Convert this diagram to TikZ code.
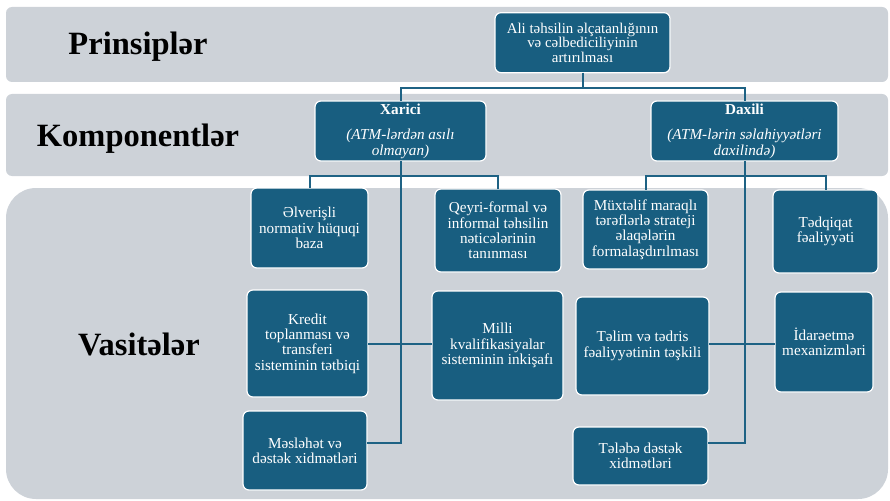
\documentclass[tikz,border=0pt]{standalone}
\usepackage{fontspec}
\setmainfont{LiberationSerif}[Extension=.ttf, UprightFont=*-Regular, BoldFont=*-Bold, ItalicFont=*-Italic, BoldItalicFont=*-BoldItalic]
\definecolor{bandgrey}{RGB}{205,210,216}
\definecolor{boxblue}{RGB}{24,94,128}
\definecolor{lineblue}{RGB}{30,98,132}
\tikzset{
  band/.style={fill=bandgrey, draw=none},
  bandlabel/.style={anchor=base, text=black, font=\fontsize{32.5}{36}\selectfont\bfseries, inner sep=0},
  tbox/.style={fill=boxblue, draw=white, line width=1.2pt, rounded corners=6pt,
    text=white, align=center, inner sep=0pt, outer sep=0pt,
    font=\fontsize{15.2}{15.4}\selectfont},
  conn/.style={draw=lineblue, line width=2pt}
}
\begin{document}
\begin{tikzpicture}[x=1pt,y=-1pt]
\useasboundingbox (0,0) rectangle (890,500);
% bands
\path[band, rounded corners=6pt] (6,7) rectangle (888,82);
\path[band, rounded corners=6pt] (6,94) rectangle (888,176);
\path[band, rounded corners=30pt] (6,188) rectangle (888,499);
% band labels
\node[bandlabel] (lp) at (138,55) {Prinsiplər};
\node[bandlabel] (lk) at (138,146.7) {Komponentlər};
\node[bandlabel] (lv) at (139,355) {Vasitələr};
% boxes
\node[tbox, minimum width=175pt, minimum height=60pt, font=\fontsize{14.9}{14.6}\selectfont] (top) at (582.5,42.7)
  {Ali təhsilin əlçatanlığının\\və cəlbediciliyinin\\artırılması};
\node[tbox, minimum width=171pt, minimum height=60pt] (xarici) at (400.5,131)
  {\textbf{Xarici}\\[10pt]\textit{(ATM-lərdən asılı}\\\textit{olmayan)}};
\node[tbox, minimum width=187pt, minimum height=60pt] (daxili) at (744.5,131)
  {\textbf{Daxili}\\[10pt]\textit{(ATM-lərin səlahiyyətləri}\\\textit{daxilində)}};
\node[tbox, minimum width=117pt, minimum height=80pt] (elv) at (309.5,228)
  {Əlverişli\\normativ hüquqi\\baza};
\node[tbox, minimum width=126pt, minimum height=83pt] (qey) at (498,230.5)
  {Qeyri-formal və\\informal təhsilin\\nəticələrinin\\tanınması};
\node[tbox, minimum width=121pt, minimum height=107pt] (kre) at (307.5,343.5)
  {Kredit\\toplanması və\\transferi\\sisteminin tətbiqi};
\node[tbox, minimum width=131pt, minimum height=109pt] (mil) at (497.5,345.5)
  {Milli\\kvalifikasiyalar\\sisteminin inkişafı};
\node[tbox, minimum width=124pt, minimum height=79pt] (mes) at (305,450.5)
  {Məsləhət və\\dəstək xidmətləri};
\node[tbox, minimum width=125pt, minimum height=79pt] (mux) at (645.5,229.5)
  {Müxtəlif maraqlı\\tərəflərlə strateji\\əlaqələrin\\formalaşdırılması};
\node[tbox, minimum width=105pt, minimum height=83pt] (tdq) at (825.5,231.5)
  {Tədqiqat\\fəaliyyəti};
\node[tbox, minimum width=133pt, minimum height=98pt] (tel) at (642.5,346)
  {Təlim və tədris\\fəaliyyətinin təşkili};
\node[tbox, minimum width=98pt, minimum height=100pt] (ida) at (824,342)
  {İdarəetmə\\mexanizmləri};
\node[tbox, minimum width=135pt, minimum height=58pt] (tlb) at (640.5,456)
  {Tələbə dəstək\\xidmətləri};
% junction coordinates
\coordinate (jt) at (582.5,88);
\coordinate (jx) at (400.5,176);
\coordinate (jd) at (744.5,176);
\coordinate (mesc) at (367,443);
\coordinate (tlbc) at (708,443);
\coordinate (krec) at (368,344);
\coordinate (milc) at (432,344);
\coordinate (telc) at (709,344);
\coordinate (idac) at (775,344);
% connectors
\draw[conn] (top.south) -- (jt);
\draw[conn] (jt) -| (xarici.north);
\draw[conn] (jt) -| (daxili.north);
\draw[conn] (xarici.south) -- (jx);
\draw[conn] (jx) -| (elv.north);
\draw[conn] (jx) -| (qey.north);
\draw[conn] (jx) |- (mesc);
\draw[conn] (krec) -- (milc);
\draw[conn] (daxili.south) -- (jd);
\draw[conn] (jd) -| (mux.north);
\draw[conn] (jd) -| (tdq.north);
\draw[conn] (jd) |- (tlbc);
\draw[conn] (telc) -- (idac);
\end{tikzpicture}
\end{document}
